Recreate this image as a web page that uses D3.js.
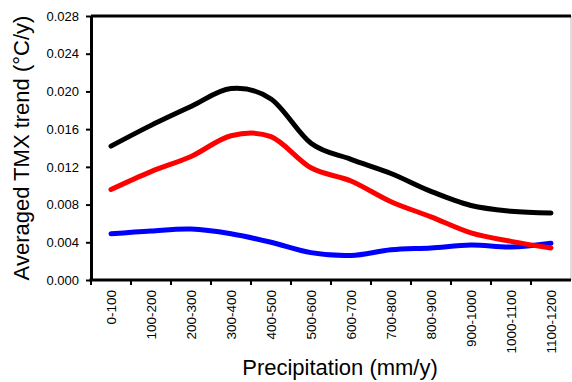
<!DOCTYPE html>
<html lang="en">
<head>
    <meta charset="UTF-8">
    <title>Averaged TMX trend by precipitation</title>
    <script src="https://d3js.org/d3.v7.min.js"></script>
    <style>
        body { margin: 0; background: #fff; }
        text { font-family: "Liberation Sans", Arial, sans-serif; }
    </style>
</head>
<body>
<div id="chart"></div>
<script>
    // precipitation classes (mm/y)
    var categories = ["0-100", "100-200", "200-300", "300-400", "400-500", "500-600",
        "600-700", "700-800", "800-900", "900-1000", "1000-1100", "1100-1200"];

    // averaged TMX trend (°C/y)
    var blackSeries = [0.0142, 0.0164, 0.0184, 0.0203, 0.0192, 0.0145, 0.0128, 0.0113, 0.0094, 0.0079, 0.0073, 0.0071];
    var redSeries = [0.0096, 0.0115, 0.0131, 0.0153, 0.0152, 0.0119, 0.0105, 0.0083, 0.0067, 0.0050, 0.0041, 0.0034];
    var blueSeries = [0.0049, 0.0052, 0.0054, 0.0049, 0.0040, 0.0029, 0.0026, 0.0032, 0.0034, 0.0037, 0.0035, 0.0039];

    var yTicks = [0, 0.004, 0.008, 0.012, 0.016, 0.020, 0.024, 0.028];

    var W = 572, H = 382;
    var margin = {top: 16, right: 1, bottom: 102, left: 91},
        width = W - margin.left - margin.right,
        height = H - margin.top - margin.bottom;

    var svg = d3.select("#chart").append("svg")
        .attr("width", W)
        .attr("height", H);

    var g = svg.append("g")
        .attr("transform", "translate(" + margin.left + "," + margin.top + ")");

    var x = d3.scaleBand().domain(categories).range([0, width]).padding(0);
    var y = d3.scaleLinear().domain([0, 0.028]).range([height, 0]);

    // right border (thin grey)
    g.append("line")
        .attr("x1", width).attr("x2", width)
        .attr("y1", 0).attr("y2", height)
        .attr("stroke", "#bdbdbd").attr("stroke-width", 1);

    // top border
    g.append("line")
        .attr("x1", 0).attr("x2", width)
        .attr("y1", 0).attr("y2", 0)
        .attr("stroke", "#000").attr("stroke-width", 3);

    // lines
    var line = d3.line()
        .x(function (d, i) { return x(categories[i]) + x.bandwidth() / 2; })
        .y(function (d) { return y(d); })
        .curve(d3.curveCatmullRom.alpha(0));

    [[blueSeries, "#0000ff"], [redSeries, "#ff0000"], [blackSeries, "#000000"]].forEach(function (s) {
        g.append("path")
            .datum(s[0])
            .attr("fill", "none")
            .attr("stroke", s[1])
            .attr("stroke-width", 5)
            .attr("stroke-linecap", "round")
            .attr("stroke-linejoin", "round")
            .attr("d", line);
    });

    // Y axis
    var yAxis = g.append("g")
        .call(d3.axisLeft(y).tickValues(yTicks).tickFormat(d3.format(".3f")).tickSize(5).tickSizeOuter(0));
    yAxis.select(".domain").attr("stroke-width", 3);
    yAxis.selectAll(".tick line").attr("stroke-width", 2);
    yAxis.selectAll("text").attr("font-size", 13).attr("x", -12).attr("fill", "#000");

    // X axis: ticks on band boundaries
    var xAxis = g.append("g")
        .attr("transform", "translate(0," + height + ")");
    xAxis.append("line")
        .attr("x1", -1.5).attr("x2", width)
        .attr("stroke", "#000").attr("stroke-width", 3);
    xAxis.selectAll(".xtick")
        .data(categories)
        .enter().append("line")
        .attr("x1", function (d) { return x(d); })
        .attr("x2", function (d) { return x(d); })
        .attr("y1", 0).attr("y2", 5)
        .attr("stroke", "#000").attr("stroke-width", 2);
    xAxis.selectAll(".xlabel")
        .data(categories)
        .enter().append("text")
        .attr("transform", function (d) {
            return "translate(" + (x(d) + x.bandwidth() / 2 + 5) + ",10) rotate(-90)";
        })
        .attr("text-anchor", "end")
        .attr("font-size", 13.5)
        .text(function (d) { return d; });

    // axis titles
    svg.append("text")
        .attr("x", 340)
        .attr("y", 375)
        .attr("text-anchor", "middle")
        .attr("font-size", 22)
        .text("Precipitation (mm/y)");

    svg.append("text")
        .attr("transform", "translate(29,148) rotate(-90)")
        .attr("text-anchor", "middle")
        .attr("font-size", 22)
        .text("Averaged TMX trend (°C/y)");
</script>
</body>
</html>
